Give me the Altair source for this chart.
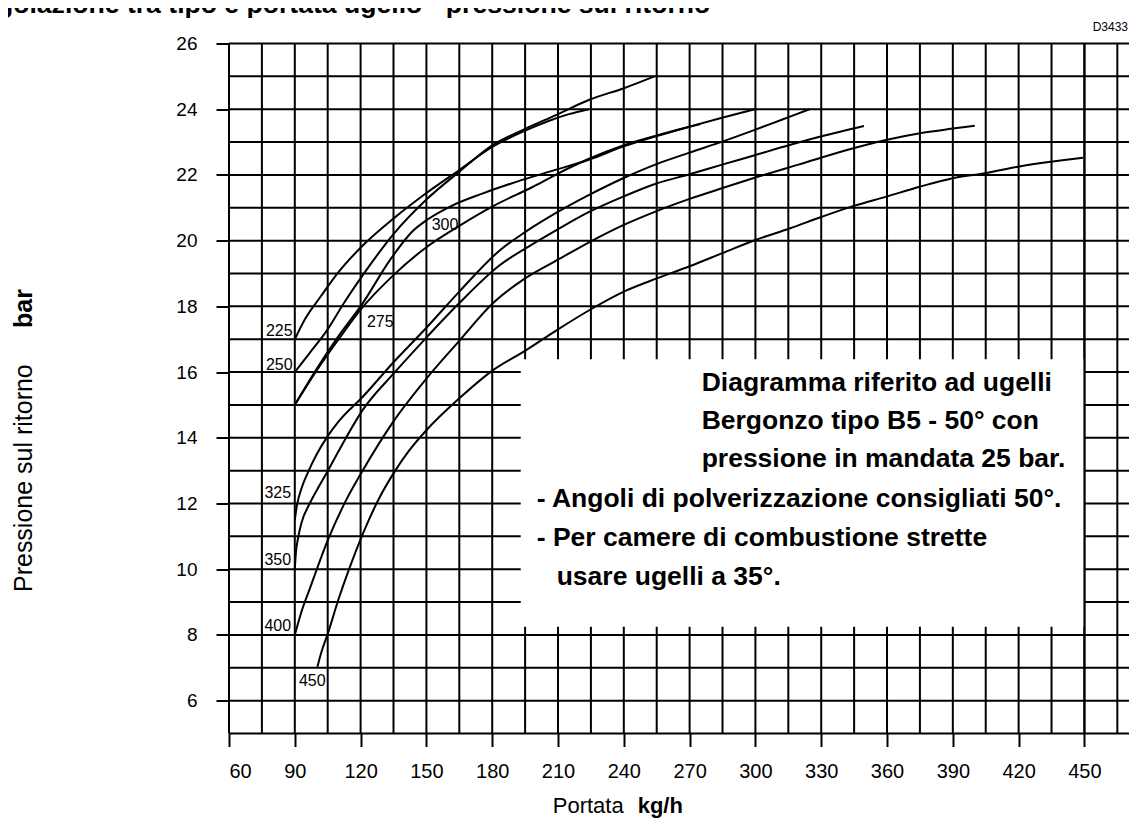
import altair as alt
import pandas as pd

# ---------------- data ----------------
x_ticks = [60, 90, 120, 150, 180, 210, 240, 270, 300, 330, 360, 390, 420, 450]
y_ticks = [6, 8, 10, 12, 14, 16, 18, 20, 22, 24, 26]
x_grid = list(range(60, 466, 15))
y_grid = list(range(5, 27))

n225_x = [90, 95, 101.8, 110, 121, 135.5, 150, 165, 180, 195, 206, 215, 224]
n225_y = [17, 17.65, 18.3, 19.05, 19.85, 20.7, 21.45, 22.15, 22.85, 23.35, 23.65, 23.85, 24.0]
n250_x = [90, 97, 105, 112.4, 121, 135, 150, 165, 180, 195, 209, 224, 240, 254]
n250_y = [16, 16.6, 17.3, 18.1, 18.95, 20.2, 21.25, 22.1, 22.9, 23.4, 23.82, 24.28, 24.64, 25.0]
n275_x = [90, 100, 110, 120, 135, 150, 165, 180.4, 198.6, 209.3, 224.4, 239.7, 254.9, 275]
n275_y = [15, 16.05, 17.0, 17.9, 18.95, 19.8, 20.45, 21.05, 21.64, 22.02, 22.5, 22.9, 23.2, 23.55]
n300_x = [90, 100, 110, 121, 133.3, 143.9, 150, 160.6, 175.8, 191, 206.2, 224.4, 239.7, 254.9, 270, 285.2, 299.7]
n300_y = [15, 16.1, 17.1, 18.1, 19.4, 20.3, 20.62, 21.03, 21.44, 21.79, 22.1, 22.47, 22.86, 23.18, 23.47, 23.75, 24.0]
n325_x = [90, 91, 93, 96, 100, 105, 110, 121, 135, 150, 165, 183.4, 194.8, 209.3, 224.4, 239.7, 254.9, 270, 285.2, 299.7, 312, 324.7]
n325_y = [11.5, 11.95, 12.45, 12.95, 13.5, 14.05, 14.5, 15.25, 16.3, 17.35, 18.45, 19.7, 20.25, 20.85, 21.4, 21.9, 22.33, 22.68, 23.02, 23.37, 23.68, 24.0]
n350_x = [90, 90.5, 91.5, 93, 96.8, 100, 105.1, 110, 121, 135, 150, 165, 183.4, 198.6, 209.3, 224.4, 239.7, 254.9, 270, 285.2, 299.7, 315.6, 329.3, 349.5]
n350_y = [10, 10.5, 10.95, 11.4, 12.0, 12.4, 13.0, 13.6, 14.85, 15.95, 17.05, 18.1, 19.25, 19.9, 20.32, 20.88, 21.34, 21.74, 22.02, 22.32, 22.6, 22.91, 23.16, 23.49]
n400_x = [90, 93, 96.8, 105.1, 113, 121.1, 135, 150, 165, 180.4, 195, 210, 225, 240, 255, 270, 285, 300, 320, 343, 360, 375, 390, 400]
n400_y = [8, 8.7, 9.4, 10.89, 12.05, 13.02, 14.5, 15.8, 16.95, 18.1, 18.85, 19.42, 19.98, 20.48, 20.9, 21.27, 21.6, 21.92, 22.32, 22.78, 23.07, 23.27, 23.41, 23.5]
n450_x = [100.3, 102, 105.1, 110, 115, 121.1, 128, 135.5, 142, 150, 165, 180.4, 195.1, 210, 226, 240, 255, 270, 285, 300, 315.6, 330, 344.5, 359.7, 374.9, 390, 404.5, 419.7, 434.6, 449.3]
n450_y = [7.03, 7.45, 8.05, 9.1, 10.05, 11.09, 12.1, 12.97, 13.6, 14.23, 15.2, 16.06, 16.65, 17.3, 17.95, 18.45, 18.85, 19.22, 19.62, 20.02, 20.37, 20.72, 21.05, 21.34, 21.64, 21.9, 22.05, 22.25, 22.4, 22.52]

label_text = ["225", "250", "275", "300", "325", "350", "400", "450"]
label_x = [89.0, 89.0, 122.9, 152.4, 88.3, 88.3, 88.3, 91.9]
label_y = [17.25, 16.21, 17.53, 20.47, 12.31, 10.28, 8.27, 6.6]
label_align = ["right", "right", "left", "left", "right", "right", "right", "left"]

note_lines = [
    "Diagramma riferito ad ugelli",
    "Bergonzo tipo B5 - 50° con",
    "pressione in mandata 25 bar.",
    "- Angoli di polverizzazione consigliati 50°.",
    "- Per camere di combustione strette",
    "usare ugelli a 35°.",
]
note_x = [275.5, 275.5, 275.5, 200.3, 200.3, 209.4]
note_y = [15.665, 14.508, 13.351, 12.134, 10.947, 9.76]

box_x, box_x2, box_y, box_y2 = 193, 450, 8.25, 16.39

# ---------------- build ----------------
rows = []
for name, xs_, ys_ in [("225", n225_x, n225_y), ("250", n250_x, n250_y), ("275", n275_x, n275_y),
                       ("300", n300_x, n300_y), ("325", n325_x, n325_y), ("350", n350_x, n350_y),
                       ("400", n400_x, n400_y), ("450", n450_x, n450_y)]:
    for i, (a, b) in enumerate(zip(xs_, ys_)):
        rows.append({"nozzle": name, "portata": a, "pressione": b, "order": i})
curves = pd.DataFrame(rows)

ARIAL = "Liberation Sans, Arial, Helvetica, sans-serif"

X0, X1 = 60, 470.5
W, H = round((X1 - X0) * 2.1935, 1), 690
xs = alt.Scale(domain=[X0, X1], nice=False, zero=False)
ys = alt.Scale(domain=[5, 26], nice=False, zero=False)

vgrid = alt.Chart(pd.DataFrame({"g": x_grid})).mark_rule(color="black", strokeWidth=2).encode(
    x=alt.X("g:Q", scale=xs, axis=alt.Axis(values=x_ticks, grid=False, domain=False, tickSize=13,
             tickWidth=2, tickColor="black", labelFont=ARIAL, labelFontSize=20, labelColor="black",
             labelPadding=15, title=None)),
    y=alt.value(0), y2=alt.value(H))

hgrid = alt.Chart(pd.DataFrame({"g": y_grid})).mark_rule(color="black", strokeWidth=2).encode(
    y=alt.Y("g:Q", scale=ys, axis=alt.Axis(values=y_ticks, grid=False, domain=False, tickSize=13,
             tickWidth=2, tickColor="black", labelFont=ARIAL, labelFontSize=19, labelColor="black",
             labelPadding=19, title=None)),
    x=alt.value(0), x2=alt.value(W))

box = alt.Chart(pd.DataFrame({"x": [box_x], "x2": [box_x2], "y": [box_y], "y2": [box_y2]})).mark_rect(
    fill="white").encode(x=alt.X("x:Q", scale=xs), x2="x2:Q", y=alt.Y("y:Q", scale=ys), y2="y2:Q")

right_edge = alt.Chart(pd.DataFrame({"g": [box_x2]})).mark_rule(color="black", strokeWidth=2).encode(
    x=alt.X("g:Q", scale=xs), y=alt.value(0), y2=alt.value(H))

lines = alt.Chart(curves).mark_line(color="black", strokeWidth=2, interpolate="monotone").encode(
    x=alt.X("portata:Q", scale=xs), y=alt.Y("pressione:Q", scale=ys), detail="nozzle:N", order="order:Q")

labels_df = pd.DataFrame({"t": label_text, "x": label_x, "y": label_y, "a": label_align})
lab_r = alt.Chart(labels_df[labels_df.a == "right"]).mark_text(
    font=ARIAL, fontSize=16, align="right", baseline="middle", color="black").encode(
    x=alt.X("x:Q", scale=xs), y=alt.Y("y:Q", scale=ys), text="t:N")
lab_l = alt.Chart(labels_df[labels_df.a == "left"]).mark_text(
    font=ARIAL, fontSize=16, align="left", baseline="middle", color="black").encode(
    x=alt.X("x:Q", scale=xs), y=alt.Y("y:Q", scale=ys), text="t:N")

notes = alt.Chart(pd.DataFrame({"t": note_lines, "x": note_x, "y": note_y})).mark_text(
    font=ARIAL, fontSize=26.5, fontWeight="bold", align="left", baseline="middle", color="black").encode(
    x=alt.X("x:Q", scale=xs), y=alt.Y("y:Q", scale=ys), text="t:N")

def txt(s, x, y, **kw):
    return alt.Chart(pd.DataFrame({"t": [s]})).mark_text(color="black", **kw).encode(
        x=alt.value(x), y=alt.value(y), text="t:N")

title = txt("Regolazione tra tipo e portata ugello - pressione sul ritorno", -266, -30.5,
            font=ARIAL, fontSize=26.6, fontWeight="bold", align="left", baseline="alphabetic")
code = txt("D3433", 899, -16.5, font=ARIAL, fontSize=12, align="right", baseline="middle")
xt1 = txt("Portata", 394.7, 763, font=ARIAL, fontSize=22, align="right", baseline="middle")
xt2 = txt("kg/h", 408.7, 763, font=ARIAL, fontSize=22, fontWeight="bold", align="left", baseline="middle")
yt1 = txt("Pressione sul ritorno", -197.3, 548.5, font=ARIAL, fontSize=25, angle=270, align="left", baseline="alphabetic")
yt2 = txt("bar", -197.3, 284.5, font=ARIAL, fontSize=25, fontWeight="bold", angle=270, align="left", baseline="alphabetic")

chart = alt.layer(vgrid, hgrid, box, right_edge, lines, lab_r, lab_l, notes,
                  title, code, xt1, xt2, yt1, yt2).properties(
    width=W, height=H,
    padding={"left": 221, "top": 35.5, "right": 0, "bottom": 87},
    autosize=alt.AutoSizeParams(type="none"),
).configure_view(stroke=None)

chart.save("out.html", embed_options={"renderer": "svg", "actions": False})
